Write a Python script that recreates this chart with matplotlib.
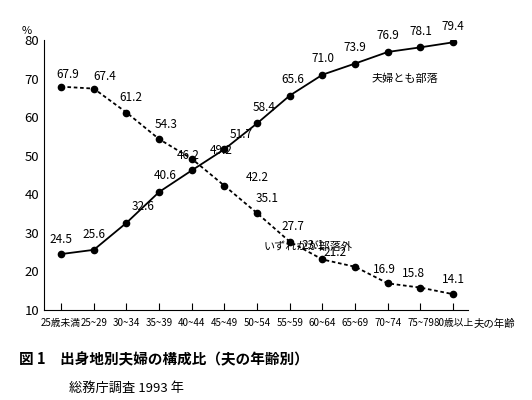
import matplotlib
matplotlib.use("Agg")
import matplotlib.pyplot as plt

plt.rcParams['font.family'] = ['Noto Sans CJK JP', 'DejaVu Sans']

ages = ["25歳未満", "25~29", "30~34", "35~39", "40~44", "45~49", "50~54",
        "55~59", "60~64", "65~69", "70~74", "75~79", "80歳以上"]
both = [24.5, 25.6, 32.6, 40.6, 46.2, 51.7, 58.4, 65.6, 71.0, 73.9, 76.9, 78.1, 79.4]
either = [67.9, 67.4, 61.2, 54.3, 49.2, 42.2, 35.1, 27.7, 23.1, 21.2, 16.9, 15.8, 14.1]

fig = plt.figure(figsize=(5.32, 4.0), dpi=100)
ax = fig.add_axes([0.083, 0.225, 0.797, 0.675])
x = list(range(len(ages)))
ax.plot(x, both, "-", color="black", lw=1.3, marker="o", ms=4.5)
ax.plot(x, either, "--", color="black", lw=1.3, marker="o", ms=4.5, dashes=(2, 1.5))

# label offsets (index units, data units)
both_off = [(0, 2.2), (0, 2.2), (0.5, 2.5), (0.2, 2.5), (-0.1, 2.2), (0.5, 2.2),
            (0.2, 2.5), (0.1, 2.5), (0, 2.5), (0, 2.5), (0, 2.5), (0, 2.5), (0, 2.5)]
either_off = [(0.2, 1.5), (0.35, 1.5), (0.15, 2.2), (0.2, 2.2), (0.9, 0.5), (1.0, 0.5),
              (0.3, 2.2), (0.1, 2.2), (-0.3, 2.0), (-0.6, 2.0), (-0.1, 2.0), (-0.2, 2.0), (0, 2.0)]
for i, v in enumerate(both):
    dx, dy = both_off[i]
    ax.text(i + dx, v + dy, f"{v:.1f}", ha="center", va="bottom", fontsize=8.5)
for i, v in enumerate(either):
    dx, dy = either_off[i]
    ax.text(i + dx, v + dy, f"{v:.1f}", ha="center", va="bottom", fontsize=8.5)

ax.text(9.5, 69.0, "夫婦とも部落", fontsize=8)
ax.text(6.2, 25.5, "いずれかが部落外", fontsize=8)

ax.set_xlim(-0.52, 12.46)
ax.set_ylim(10, 80)
ax.set_yticks(range(10, 81, 10))
ax.set_xticks(x)
ax.set_xticklabels(ages, fontsize=7)
ax.tick_params(axis="x", direction="in", length=5, pad=6)
ax.tick_params(axis="y", length=0, labelsize=9.5)
for s in ["top", "right"]:
    ax.spines[s].set_visible(False)
fig.text(0.89, 0.19, "夫の年齢", fontsize=7.5, va="center")
fig.text(0.04, 0.915, "%", fontsize=8)
fig.text(0.035, 0.09, "図 1　出身地別夫婦の構成比（夫の年齢別）", fontsize=10.5, fontweight="bold")
fig.text(0.13, 0.02, "総務庁調査 1993 年", fontsize=9.5)

fig.savefig("out.png", dpi=100)
